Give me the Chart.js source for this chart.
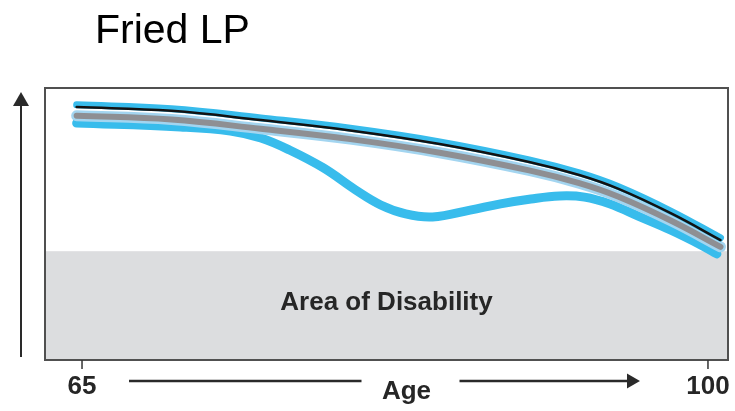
<!DOCTYPE html>
<html>
<head>
<meta charset="utf-8">
<script src="https://cdn.jsdelivr.net/npm/chart.js@4/dist/chart.umd.min.js"></script>
<style>
  html, body { margin: 0; padding: 0; background: #fff; }
  #wrap { width: 735px; height: 411px; position: relative; }
</style>
</head>
<body>
<div id="wrap"><canvas id="c"></canvas></div>
<script>
// Ages (x) and relative function level (y, 0–100)
const healthyAges = [64.7, 70, 75, 80, 85, 90, 92.8, 95, 98, 100.7];
const blueUpper   = [93.8, 92.4, 89.0, 85.2, 80.2, 73.6, 68.8, 63.7, 54.5, 44.9];
const blackLine   = [93.0, 91.6, 88.2, 84.4, 79.4, 72.8, 68.0, 62.9, 53.7, 44.1];
const grayLine    = [89.8, 88.4, 85.0, 81.2, 76.2, 69.7, 65.0, 60.0, 51.0, 41.6];

const dipAges  = [64.7, 70.5, 73.3, 75.0, 76.6, 78.5, 80.3, 81.7, 83.1, 84.6,
                  86.7, 88.4, 90.1, 91.7, 93.1, 94.5, 96.2, 97.9, 99.6, 100.5];
const dipLine  = [87.1, 85.7, 84.2, 81.6, 77.2, 70.6, 62.5, 57.0, 53.7, 52.6,
                  55.1, 57.4, 59.2, 60.3, 59.9, 57.4, 52.6, 47.8, 42.3, 39.0];

const tickAges = [65, 100];
const tickLabels = ['65', '100'];
const disabilityLevel = 40;
const titleText = 'Fried LP';
const bandLabel = 'Area of Disability';
const axisLabel = 'Age';

const pts = (xs, ys) => xs.map((x, i) => ({ x, y: ys[i] }));

const BLUE = '#38bcec';
const lineBase = {
  pointRadius: 0,
  tension: 0.4,
  borderCapStyle: 'round',
  borderJoinStyle: 'round',
  fill: false
};

const FONT = '"Liberation Sans", Arial, sans-serif';

const decorations = {
  id: 'decorations',
  beforeDatasetsDraw(chart) {
    const { ctx, chartArea: a, scales: { x, y } } = chart;
    const top = y.getPixelForValue(disabilityLevel);
    ctx.save();
    ctx.fillStyle = '#dcdddf';
    ctx.fillRect(a.left, top, a.right - a.left, a.bottom - top);
    ctx.fillStyle = '#262626';
    ctx.font = 'bold 26px ' + FONT;
    ctx.textAlign = 'center';
    ctx.textBaseline = 'alphabetic';
    ctx.fillText(bandLabel, (a.left + a.right) / 2, y.getPixelForValue(18.4));
    ctx.restore();
  },
  afterDatasetsDraw(chart) {
    const { ctx, chartArea: a, scales: { x } } = chart;
    ctx.save();
    // frame
    ctx.strokeStyle = '#505050';
    ctx.lineWidth = 2;
    ctx.strokeRect(a.left, a.top, a.right - a.left, a.bottom - a.top);

    // x ticks and labels
    ctx.strokeStyle = '#333';
    ctx.lineWidth = 1.5;
    ctx.fillStyle = '#262626';
    ctx.font = 'bold 26px ' + FONT;
    ctx.textAlign = 'center';
    ctx.textBaseline = 'alphabetic';
    const tickPx = tickAges.map(v => x.getPixelForValue(v));
    tickPx.forEach((px, i) => {
      ctx.beginPath();
      ctx.moveTo(px, a.bottom);
      ctx.lineTo(px, a.bottom + 9);
      ctx.stroke();
      ctx.fillText(tickLabels[i], px, a.bottom + 34);
    });

    // axis title with arrow
    const cx = (a.left + a.right) / 2 + 20;
    ctx.fillText(axisLabel, cx, a.bottom + 39);
    const ay = a.bottom + 21;
    ctx.strokeStyle = '#2a2a2a';
    ctx.lineWidth = 2.5;
    ctx.beginPath();
    ctx.moveTo(tickPx[0] + 47, ay);
    ctx.lineTo(cx - 45, ay);
    ctx.moveTo(cx + 53, ay);
    ctx.lineTo(tickPx[1] - 75, ay);
    ctx.stroke();
    ctx.fillStyle = '#2a2a2a';
    ctx.beginPath();
    ctx.moveTo(tickPx[1] - 68, ay);
    ctx.lineTo(tickPx[1] - 81, ay - 7.5);
    ctx.lineTo(tickPx[1] - 81, ay + 7.5);
    ctx.closePath();
    ctx.fill();

    // vertical function arrow
    const vx = a.left - 24;
    ctx.lineWidth = 2;
    ctx.beginPath();
    ctx.moveTo(vx, a.bottom - 3);
    ctx.lineTo(vx, a.top + 14);
    ctx.stroke();
    ctx.beginPath();
    ctx.moveTo(vx, a.top + 4);
    ctx.lineTo(vx - 8, a.top + 18);
    ctx.lineTo(vx + 8, a.top + 18);
    ctx.closePath();
    ctx.fill();

    // title
    ctx.fillStyle = '#000';
    ctx.font = '41px ' + FONT;
    ctx.textAlign = 'left';
    ctx.fillText(titleText, 95, 43);
    ctx.restore();
  }
};

new Chart(document.getElementById('c'), {
  type: 'line',
  data: {
    datasets: [
      { ...lineBase, label: 'black', data: pts(healthyAges, blackLine), borderColor: '#121212', borderWidth: 2.5, order: 0 },
      { ...lineBase, label: 'blue upper', data: pts(healthyAges, blueUpper), borderColor: BLUE, borderWidth: 7, order: 1 },
      { ...lineBase, label: 'gray', data: pts(healthyAges, grayLine), borderColor: '#8e8f93', borderWidth: 6, order: 2 },
      { ...lineBase, label: 'gray halo', data: pts(healthyAges, grayLine), borderColor: '#a3d5f0', borderWidth: 11, order: 3 },
      { ...lineBase, label: 'decline', data: pts(dipAges, dipLine), borderColor: BLUE, borderWidth: 9, order: 4 }
    ]
  },
  options: {
    responsive: true,
    maintainAspectRatio: false,
    animation: false,
    layout: { padding: { left: 45, right: 7, top: 88, bottom: 51 } },
    plugins: { legend: { display: false }, tooltip: { enabled: false }, title: { display: false } },
    scales: {
      x: { type: 'linear', display: false, min: 62.93, max: 101.12 },
      y: { type: 'linear', display: false, min: 0, max: 100 }
    }
  },
  plugins: [decorations]
});
</script>
</body>
</html>
